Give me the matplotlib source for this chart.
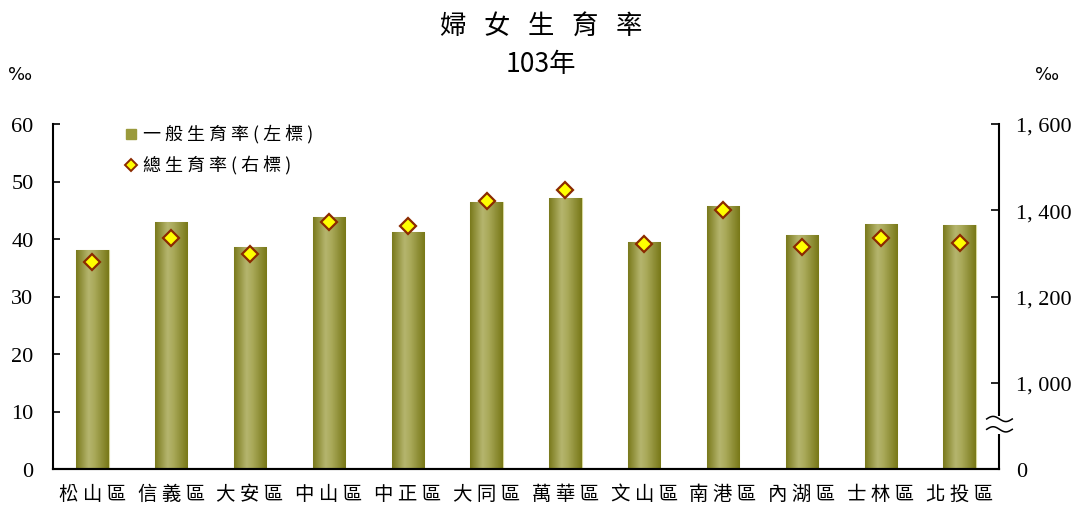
import numpy as np
import matplotlib
matplotlib.use("Agg")
import matplotlib.pyplot as plt
from matplotlib.colors import LinearSegmentedColormap
import matplotlib.transforms as mtransforms

districts = ["松山區", "信義區", "大安區", "中山區", "中正區", "大同區",
             "萬華區", "文山區", "南港區", "內湖區", "士林區", "北投區"]
general_rate = [38.1, 42.9, 38.6, 43.9, 41.2, 46.4, 47.1, 39.5, 45.7, 40.7, 42.6, 42.4]
total_rate = [1281, 1335, 1298, 1372, 1363, 1422, 1448, 1321, 1400, 1314, 1335, 1325]
left_ticks = [0, 10, 20, 30, 40, 50, 60]
right_ticks = [800, 1000, 1200, 1400, 1600]
right_tick_labels = ["0", "1, 000", "1, 200", "1, 400", "1, 600"]
legend_labels = ["一般生育率(左標)", "總生育率(右標)"]
title_text = "婦女生育率"
subtitle_text = "103年"

CJK = ["Noto Sans CJK TC", "DejaVu Sans"]
SERIF = ["Liberation Serif", "DejaVu Serif"]

def spaced(s, n=1):
    return (" " * n).join(list(s))

W, H = 1082, 510
fig = plt.figure(figsize=(W / 100, H / 100), dpi=100)
ax = fig.add_axes([53 / W, 1 - 470 / H, (999 - 53) / W, (470 - 125) / H])
ax2 = ax.twinx()

x = np.arange(len(districts))
bars = ax.bar(x, general_rate, width=0.41, color="#9a9a3c", edgecolor="#d8d89c",
              linewidth=0.8, zorder=2)

cmap = LinearSegmentedColormap.from_list(
    "olive", [(0.0, "#7a7a1c"), (0.38, "#b5b56e"), (0.55, "#abab5c"), (1.0, "#787818")])
grad = np.linspace(0, 1, 64).reshape(1, -1)
for b in bars:
    x0, w, h = b.get_x(), b.get_width(), b.get_height()
    im = ax.imshow(grad, cmap=cmap, aspect="auto", extent=(x0, x0 + w, 0, h),
                   zorder=2.5, interpolation="bicubic")
    im.set_clip_path(b)

ax.set_xlim(-0.5, len(districts) - 0.5)
ax.set_ylim(0, 60)
ax.set_yticks(left_ticks)
ax.set_xticks(x)
ax.set_xticklabels([spaced(d) for d in districts], family=CJK, fontsize=14)
ax.tick_params(axis="x", length=0, pad=10)
ax.tick_params(axis="y", direction="in", length=5, width=1.2, labelsize=16, pad=14)
for lab in ax.get_yticklabels():
    lab.set_family(SERIF)

ax2.plot(x, total_rate, linestyle="none", marker="D", markersize=8.5,
         markerfacecolor="#ffff00", markeredgecolor="#8b2a00", markeredgewidth=1.6,
         zorder=5)
ax2.set_ylim(800, 1600)
ax2.set_yticks(right_ticks)
ax2.set_yticklabels(right_tick_labels)
ax2.tick_params(axis="y", direction="in", length=6, width=1.2, labelsize=16, pad=12)
for lab in ax2.get_yticklabels():
    lab.set_family(SERIF)

for a in (ax, ax2):
    a.spines["top"].set_visible(False)
    for s in ("left", "right", "bottom"):
        a.spines[s].set_linewidth(1.5)
        a.spines[s].set_color("black")
ax2.spines["left"].set_visible(False)
ax.spines["right"].set_visible(False)

# axis break marks on right spine
tb = mtransforms.blended_transform_factory(ax2.transAxes, ax2.transData)
ax2.add_patch(plt.Rectangle((0.985, 882), 0.03, 42, transform=tb, facecolor="white",
                            edgecolor="none", clip_on=False, zorder=6))
t = np.linspace(0, 1, 40)
for yc in (916, 892):
    xs = 0.987 + 0.027 * t
    ys = yc + 6 * np.sin(2 * np.pi * t)
    ax2.plot(xs, ys, color="black", lw=1.1, transform=tb, clip_on=False, zorder=7)

# legend (manual placement in axes coords)
lx = (131 - 53) / (999 - 53)
ty1 = (470 - 135) / (470 - 125)
ty2 = (470 - 166) / (470 - 125)
ax.plot([lx], [ty1], marker="s", markersize=7.5, color="#9a9a3c", transform=ax.transAxes,
        clip_on=False, zorder=6)
ax.plot([lx], [ty2], marker="D", markersize=6.5, markerfacecolor="#ffff00",
        markeredgecolor="#8b2a00", markeredgewidth=1.4, transform=ax.transAxes,
        clip_on=False, zorder=6)
tx = (143 - 53) / (999 - 53)
ax.text(tx, ty1, spaced(legend_labels[0]), transform=ax.transAxes, family=CJK,
        fontsize=13, va="center", ha="left")
ax.text(tx, ty2, spaced(legend_labels[1]), transform=ax.transAxes, family=CJK,
        fontsize=13, va="center", ha="left")

fig.text(0.5, 1 - 27 / H, spaced(title_text, 3), ha="center", va="center",
         family=CJK, fontsize=19)
fig.text(0.5, 1 - 65 / H, subtitle_text, ha="center", va="center",
         family=CJK, fontsize=19)
fig.text(20 / W, 1 - 75 / H, "‰", ha="center", va="center", fontsize=13,
         family=["DejaVu Sans"])
fig.text(1047 / W, 1 - 75 / H, "‰", ha="center", va="center", fontsize=13,
         family=["DejaVu Sans"])

fig.savefig("out.png", dpi=100, facecolor="white")
